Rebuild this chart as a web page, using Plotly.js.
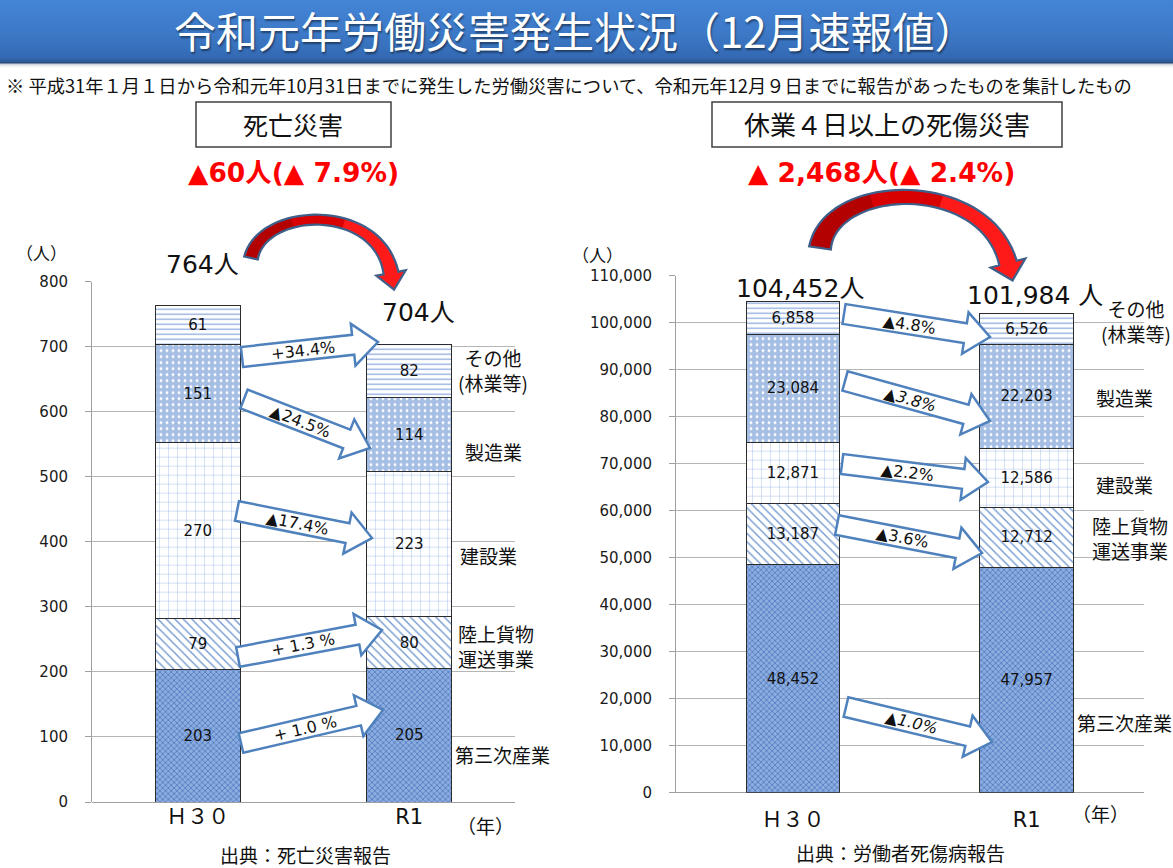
<!DOCTYPE html>
<html><head><meta charset="utf-8">
<script src="https://cdn.plot.ly/plotly-3.0.1.min.js"></script>
<style>
html,body{margin:0;padding:0;background:#fff;}
#wrap{position:relative;width:1173px;height:868px;overflow:hidden;
background:linear-gradient(to bottom,#4485d6 0px,#3c78c6 35px,#3469b3 58px,#2c5690 62px,#27466f 63px,#c9cfd8 64px,#eef0f3 66px,#ffffff 68px);}
#chart{width:1173px;height:868px;}
</style></head><body><div id="wrap"><div id="chart"></div></div>
<script>
// ---------- data ----------
const years = ['Ｈ３０', 'R1'];
const industries = ['第三次産業', '陸上貨物運送事業', '建設業', '製造業', 'その他(林業等)'];
const industryLabels = ['第三次産業', '陸上貨物<br>運送事業', '建設業', '製造業', 'その他<br>(林業等)'];
const fatalH30 = [203, 79, 270, 151, 61];
const fatalR1 = [205, 80, 223, 114, 82];
const injuryH30 = [48452, 13187, 12871, 23084, 6858];
const injuryR1 = [47957, 12712, 12586, 22203, 6526];
const fatalChange = ['+ 1.0 %', '+ 1.3 %', '▲17.4%', '▲24.5%', '+34.4%'];
const injuryChange = ['▲1.0%', '▲3.6%', '▲2.2%', '▲3.8%', '▲4.8%'];
const fatalTicks = [0, 100, 200, 300, 400, 500, 600, 700, 800];
const injuryTicks = [0, 10000, 20000, 30000, 40000, 50000, 60000, 70000, 80000, 90000, 100000, 110000];
const fatalDiff = '▲60人(▲ 7.9%)';
const injuryDiff = '▲ 2,468人(▲ 2.4%)';
const titleText = '令和元年労働災害発生状況（12月速報値）';
const noteText = '※ 平成31年１月１日から令和元年10月31日までに発生した労働災害について、令和元年12月９日までに報告があったものを集計したもの';

// ---------- helpers ----------
const W = 1173, H = 868;
const X = p => p / W, Y = p => 1 - p / H;
const NUM = '"DejaVu Sans", "Noto Sans CJK JP", sans-serif';
const JP = '"Noto Sans CJK JP", sans-serif';
const sum = a => a.reduce((s, v) => s + v, 0);
const fmt = v => v.toLocaleString('en-US');

const patterns = [
  {bg: '#8dade0', fg: '#3d6db6', shape: 'x', size: 4, solidity: 0.3},
  {bg: '#ffffff', fg: '#6f95cf', shape: '\\', size: 6, solidity: 0.22},
  {bg: '#ffffff', fg: '#a3bde6', shape: '+', size: 9, solidity: 0.1},
  {bg: '#a5bee4', fg: '#ffffff', shape: '.', size: 6, solidity: 0.18},
  {bg: '#ffffff', fg: '#8aa8dc', shape: '-', size: 5, solidity: 0.25}
];

function barTrace(name, i, yvals, xa, ya, tmpl) {
  const p = patterns[i];
  return {
    type: 'bar', name: name, x: years, y: yvals, xaxis: xa, yaxis: ya, width: 0.4,
    marker: {color: p.bg, line: {color: '#2b2b2b', width: 1},
      pattern: {shape: p.shape, fgcolor: p.fg, bgcolor: p.bg, size: p.size, solidity: p.solidity}},
    texttemplate: tmpl, textposition: 'inside', insidetextanchor: 'middle', textangle: 0,
    constraintext: 'none', textfont: {family: NUM, size: 15, color: '#111'},
    hoverinfo: 'skip', showlegend: false
  };
}

const traces = [];
industries.forEach((name, i) => {
  traces.push(barTrace(name, i, [fatalH30[i], fatalR1[i]], 'x', 'y', '%{y}'));
  traces.push(barTrace(name, i, [injuryH30[i], injuryR1[i]], 'x2', 'y2', '%{y:,}'));
});

// ---------- decorations ----------
const shapes = [], annotations = [];
const toPath = (pts, close) => 'M' + pts.map(p => X(p[0]).toFixed(5) + ',' + Y(p[1]).toFixed(5)).join(' L') + (close ? ' Z' : '');

function blockArrow(S, T, w, hw, hl) {
  const dx = T[0] - S[0], dy = T[1] - S[1], L = Math.hypot(dx, dy);
  const ux = dx / L, uy = dy / L, nx = -uy, ny = ux;
  const B = [T[0] - ux * hl, T[1] - uy * hl];
  return [[S[0] + nx * w, S[1] + ny * w], [B[0] + nx * w, B[1] + ny * w], [B[0] + nx * hw, B[1] + ny * hw], T,
          [B[0] - nx * hw, B[1] - ny * hw], [B[0] - nx * w, B[1] - ny * w], [S[0] - nx * w, S[1] - ny * w]];
}
function addChangeArrow(S, T, label, italic) {
  shapes.push({type: 'path', xref: 'paper', yref: 'paper', path: toPath(blockArrow(S, T, 10, 21, 25), true),
    fillcolor: '#ffffff', line: {color: '#4f81bd', width: 2.5}, layer: 'above'});
  const dx = T[0] - S[0], dy = T[1] - S[1];
  const f = 0.45;
  annotations.push({xref: 'paper', yref: 'paper', x: X(S[0] + dx * f), y: Y(S[1] + dy * f), text: italic ? '<i>' + label + '</i>' : label,
    textangle: Math.atan2(dy, dx) * 180 / Math.PI, showarrow: false, xanchor: 'center', yanchor: 'middle',
    font: {family: NUM, size: 16, color: '#111'}});
}
const fatalArrowGeom = [[[241, 743], [383, 710]], [[238, 657], [382, 630]], [[237, 511], [372, 538]], [[244, 399], [370, 448]], [[242, 357], [378, 342]]];
const injuryArrowGeom = [[[846, 707], [992, 742]], [[837, 525], [982, 553]], [[842, 464], [988, 482]], [[845, 381], [990, 421]], [[844, 314], [990, 337]]];
fatalArrowGeom.forEach((g, i) => addChangeArrow(g[0], g[1], fatalChange[i], false));
injuryArrowGeom.forEach((g, i) => addChangeArrow(g[0], g[1], injuryChange[i], i === 0 || i === 3));

// curved red arrows
function bez(P, t) { const m = 1 - t; return [0, 1].map(k => m*m*m*P[0][k] + 3*m*m*t*P[1][k] + 3*m*t*t*P[2][k] + t*t*t*P[3][k]); }
function bezD(P, t) { const m = 1 - t; return [0, 1].map(k => 3*m*m*(P[1][k]-P[0][k]) + 6*m*t*(P[2][k]-P[1][k]) + 3*t*t*(P[3][k]-P[2][k])); }
function curvedArrow(P, w0, wm, w1, hw, hl) {
  const c = 2 * wm - 0.5 * (w0 + w1), N = 40, A = [], B = [];
  for (let i = 0; i <= N; i++) {
    const t = i / N, p = bez(P, t), d = bezD(P, t), L = Math.hypot(d[0], d[1]);
    const nx = -d[1] / L, ny = d[0] / L, m = 1 - t;
    const w = (w0 * m * m + 2 * c * t * m + w1 * t * t) / 2;
    A.push([p[0] + nx * w, p[1] + ny * w]); B.push([p[0] - nx * w, p[1] - ny * w]);
  }
  const d = bezD(P, 1), L = Math.hypot(d[0], d[1]), ux = d[0] / L, uy = d[1] / L, nx = -uy, ny = ux, E = P[3];
  const head = [[E[0] + nx * hw, E[1] + ny * hw], [E[0] + ux * hl, E[1] + uy * hl], [E[0] - nx * hw, E[1] - ny * hw]];
  const segs = [[0, 15, '#b30000'], [14, 26, '#d80000'], [25, N, '#ff1a1a']];
  segs.forEach(s => {
    let pts = A.slice(s[0], s[1] + 1);
    if (s[1] === N) pts = pts.concat(head);
    pts = pts.concat(B.slice(s[0], s[1] + 1).reverse());
    shapes.push({type: 'path', xref: 'paper', yref: 'paper', path: toPath(pts, true), fillcolor: s[2], line: {width: 0}, layer: 'above'});
  });
  const outline = A.concat(head).concat(B.slice().reverse());
  shapes.push({type: 'path', xref: 'paper', yref: 'paper', path: toPath(outline, true), fillcolor: 'rgba(0,0,0,0)', line: {color: '#3e5f8a', width: 2.2}, layer: 'above'});
}
curvedArrow([[251, 258], [262, 207], [378, 202], [391, 273]], 14, 10, 15, 15, 17);
curvedArrow([[820, 248], [830, 180], [985, 175], [1008, 263]], 22, 14, 18, 18, 18);

// header boxes
shapes.push({type: 'rect', xref: 'paper', yref: 'paper', x0: X(196), x1: X(391), y0: Y(147), y1: Y(102), fillcolor: '#fff', line: {color: '#404040', width: 1.5}, layer: 'above'});
shapes.push({type: 'rect', xref: 'paper', yref: 'paper', x0: X(712), x1: X(1062), y0: Y(147), y1: Y(102), fillcolor: '#fff', line: {color: '#404040', width: 1.5}, layer: 'above'});

function txt(x, y, text, size, opts) {
  annotations.push(Object.assign({xref: 'paper', yref: 'paper', x: X(x), y: Y(y), text: text, showarrow: false,
    xanchor: 'center', yanchor: 'middle', font: {family: JP, size: size, color: '#111'}}, opts || {}));
}
txt(575, 29, titleText, 42, {font: {family: JP, size: 42, color: '#ffffff', shadow: '1px 2px 2px rgba(0,0,0,0.45)'}});
txt(4, 85, noteText, 18.3, {xanchor: 'left'});
txt(293, 124, '死亡災害', 25);
txt(887, 124, '休業４日以上の死傷災害', 26);
txt(293, 172, '<b>' + fatalDiff + '</b>', 26.5, {font: {family: NUM, size: 26.5, color: '#ff0000'}});
txt(882, 172, '<b>' + injuryDiff + '</b>', 26.5, {font: {family: NUM, size: 26.5, color: '#ff0000'}});
txt(41, 253, '（人）', 17);
txt(597, 255, '（人）', 17);
// totals
txt(202, 264, fmt(sum(fatalH30)) + '人', 25, {font: {family: NUM, size: 25, color: '#111'}});
txt(418, 313, fmt(sum(fatalR1)) + '人', 25, {font: {family: NUM, size: 25, color: '#111'}});
txt(800, 288, fmt(sum(injuryH30)) + '人', 25, {font: {family: NUM, size: 25, color: '#111'}});
txt(1035, 295, fmt(sum(injuryR1)) + ' 人', 25, {font: {family: NUM, size: 25, color: '#111'}});
// category labels
const fatalLabelPos = [[502, 754], [496, 646], [488, 555], [493, 452], [493, 370]];
const injuryLabelPos = [[1124, 722], [1130, 538], [1124, 484], [1124, 397], [1136, 321]];
industryLabels.forEach((lab, i) => {
  txt(fatalLabelPos[i][0], fatalLabelPos[i][1], lab, 19);
  txt(injuryLabelPos[i][0], injuryLabelPos[i][1], lab, 19);
});
txt(485, 825, '（年）', 19);
txt(1100, 813, '（年）', 19);
txt(305, 854, '出典：死亡災害報告', 19);
txt(900, 852, '出典：労働者死傷病報告', 19);

const yCommon = {showgrid: true, gridcolor: '#b5b5b5', gridwidth: 1, zeroline: true, zerolinecolor: '#a0a0a0', zerolinewidth: 1,
  showline: true, linecolor: '#a0a0a0', linewidth: 1, ticks: 'outside', ticklen: 6, tickcolor: '#a0a0a0',
  tickfont: {family: NUM, size: 15, color: '#1a1a1a'}, ticklabelstandoff: 14, fixedrange: true};
const xCommon = {type: 'category', range: [-0.5, 1.5], showgrid: false, zeroline: false, showline: false, ticks: '',
  tickfont: {family: NUM, size: 21, color: '#111'}, fixedrange: true};

const layout = {
  width: W, height: H, autosize: false, margin: {l: 0, r: 0, t: 0, b: 0, pad: 0},
  paper_bgcolor: 'rgba(0,0,0,0)', plot_bgcolor: 'rgba(0,0,0,0)',
  barmode: 'stack', showlegend: false, hovermode: false,
  xaxis: Object.assign({}, xCommon, {domain: [X(92), X(515)], anchor: 'y'}),
  yaxis: Object.assign({}, yCommon, {domain: [Y(802), Y(281.7)], anchor: 'x', range: [0, 800], tickvals: fatalTicks}),
  xaxis2: Object.assign({}, xCommon, {domain: [X(676), X(1143.5)], anchor: 'y2', ticklabelstandoff: 12}),
  yaxis2: Object.assign({}, yCommon, {domain: [Y(792.7), Y(275.7)], anchor: 'x2', range: [0, 110000], tickvals: injuryTicks, tickformat: ',d'}),
  shapes: shapes, annotations: annotations
};
Plotly.newPlot('chart', traces, layout, {staticPlot: true, displayModeBar: false});
</script></body></html>
